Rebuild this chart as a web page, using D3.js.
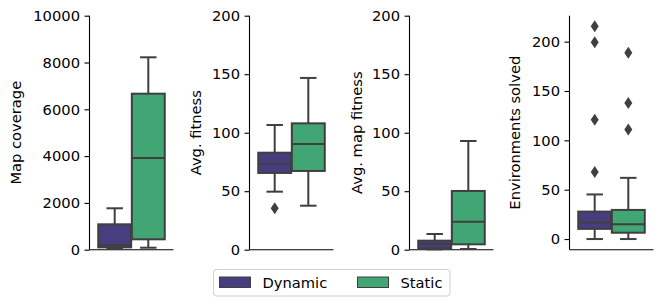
<!DOCTYPE html>
<html><head><meta charset="utf-8">
<script src="https://cdn.jsdelivr.net/npm/d3@7"></script>
<style>body{margin:0;background:#fff}svg{display:block}text{font-family:"DejaVu Sans",sans-serif}</style>
</head><body><svg id="c" width="664" height="307"></svg>
<script>
const groups = ["Dynamic", "Static"];
const colors = ["#473e80", "#41a674"];
const metrics = ["Map coverage", "Avg. fitness", "Avg. map fitness", "Environments solved"];
const domains = [[0, 10000], [0, 200], [0, 200], [-10.8, 226.3]];
const tickValues = [[0, 2000, 4000, 6000, 8000, 10000], [0, 50, 100, 150, 200], [0, 50, 100, 150, 200], [0, 50, 100, 150, 200]];
// box stats: [whisker low, q1, median, q3, whisker high]
const mapCoverage = [[50, 100, 200, 1085, 1770], [85, 444, 3919, 6667, 8222]];
const avgFitness = [[49.6, 65.6, 73.5, 82.9, 106.6], [37.6, 67.3, 90.3, 108, 146.8]];
const avgMapFitness = [[0.3, 1.2, 4.9, 7.7, 13.4], [0.6, 4.6, 23.9, 50.2, 92.9]];
const envSolved = [[0, 10.3, 16.8, 27.8, 45.2], [0, 6.4, 15.1, 29.5, 62]];
const outliers = [[[], []], [[35.4], []], [[], []], [[215.5, 199.3, 120.8, 68], [188.8, 137.8, 111]]];
const stats = [mapCoverage, avgFitness, avgMapFitness, envSolved];

const svg = d3.select("#c");
const lefts = [89.5, 249.5, 409.5, 569.5];
const pw = 84, yTop = 15.7, yBottom = 249.7;
const labelX = [17, 197, 358, 516];
const edge = "#3f3f3f";
const fs = 14.7;

metrics.forEach((m, i) => {
  const g = svg.append("g");
  const y = d3.scaleLinear().domain(domains[i]).range([yBottom, yTop]);
  const x = d3.scaleBand().domain(groups).range([lefts[i] + pw * 0.1, lefts[i] + pw * 0.9]).padding(0);
  const ya = d3.axisLeft(y).tickValues(tickValues[i]).tickFormat(d3.format("d")).tickSize(5).tickPadding(4.5);
  const yg = g.append("g").attr("transform", `translate(${lefts[i]},0)`).call(ya);
  yg.select(".domain").remove();
  yg.selectAll(".tick line").attr("stroke", "#000").attr("stroke-width", 1.1);
  yg.selectAll(".tick text").attr("font-size", fs).attr("fill", "#000").attr("font-family", "DejaVu Sans");
  g.append("line").attr("x1", lefts[i]).attr("x2", lefts[i]).attr("y1", yTop).attr("y2", yBottom).attr("stroke", "#000").attr("stroke-width", 1.1);
  g.append("line").attr("x1", lefts[i]).attr("x2", lefts[i] + pw).attr("y1", yBottom).attr("y2", yBottom).attr("stroke", "#000").attr("stroke-width", 1.1);
  g.append("text").attr("transform", `translate(${labelX[i]},${(yTop + yBottom) / 2}) rotate(-90)`)
    .attr("text-anchor", "middle").attr("dominant-baseline", "middle").attr("font-size", fs).text(m);

  groups.forEach((gr, j) => {
    const s = stats[i][j];
    const bw = x.bandwidth() * 0.98;
    const cx = x(gr) + x.bandwidth() / 2;
    const x0 = cx - bw / 2;
    const cap = bw / 2;
    g.append("line").attr("x1", cx).attr("x2", cx).attr("y1", y(s[0])).attr("y2", y(s[1])).attr("stroke", edge).attr("stroke-width", 2);
    g.append("line").attr("x1", cx).attr("x2", cx).attr("y1", y(s[3])).attr("y2", y(s[4])).attr("stroke", edge).attr("stroke-width", 2);
    g.append("line").attr("x1", cx - cap / 2).attr("x2", cx + cap / 2).attr("y1", y(s[0])).attr("y2", y(s[0])).attr("stroke", edge).attr("stroke-width", 2);
    g.append("line").attr("x1", cx - cap / 2).attr("x2", cx + cap / 2).attr("y1", y(s[4])).attr("y2", y(s[4])).attr("stroke", edge).attr("stroke-width", 2);
    g.append("rect").attr("x", x0).attr("width", bw).attr("y", y(s[3])).attr("height", y(s[1]) - y(s[3]))
      .attr("fill", colors[j]).attr("stroke", edge).attr("stroke-width", 2);
    g.append("line").attr("x1", x0).attr("x2", x0 + bw).attr("y1", y(s[2])).attr("y2", y(s[2])).attr("stroke", edge).attr("stroke-width", 2);
    outliers[i][j].forEach(v => {
      const py = y(v);
      g.append("path").attr("d", `M${cx},${py - 6}L${cx + 4},${py}L${cx},${py + 6}L${cx - 4},${py}Z`).attr("fill", edge);
    });
  });
});

const lg = svg.append("g");
lg.append("rect").attr("x", 213.5).attr("y", 269.5).attr("width", 236.5).attr("height", 26.5).attr("rx", 3)
  .attr("fill", "#fff").attr("stroke", "#d0d0d0").attr("stroke-width", 1);
const lx = [219.5, 357.5];
groups.forEach((gr, j) => {
  lg.append("rect").attr("x", lx[j]).attr("y", 277).attr("width", 31).attr("height", 10.5)
    .attr("fill", colors[j]).attr("stroke", edge).attr("stroke-width", 1);
  lg.append("text").attr("x", lx[j] + 43).attr("y", 287.5).attr("font-size", fs).text(gr);
});
</script></body></html>
